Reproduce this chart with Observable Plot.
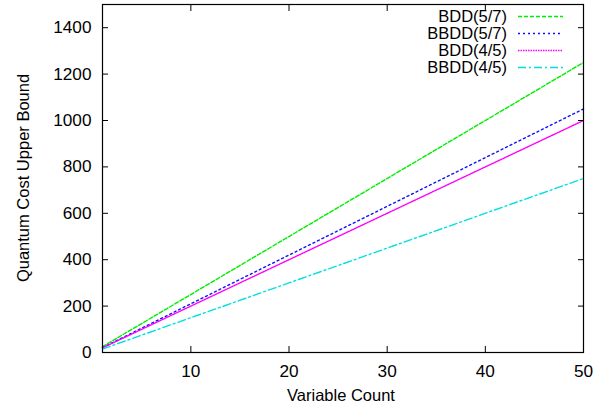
<!DOCTYPE html>
<html>
<head>
<meta charset="utf-8">
<script src="https://cdn.jsdelivr.net/npm/d3@7"></script>
<script src="https://cdn.jsdelivr.net/npm/@observablehq/plot@0.6"></script>
<style>
  html, body { margin: 0; padding: 0; background: #fff; }
  #chart svg { display: block; }
</style>
</head>
<body>
<div id="chart"></div>
<script>
// ---- data ----
const variableCount = [1, 50];
const bdd57  = [25, 1250];
const bbdd57 = [21, 1050];
const bdd45  = [20, 1000];
const bbdd45 = [15, 750];
const seriesNames  = ["BDD(5/7)", "BBDD(5/7)", "BDD(4/5)", "BBDD(4/5)"];
const seriesColors = ["#00ee00", "#1010ff", "#ff00ff", "#00e0e0"];
const seriesDash   = ["4,2", "2,3", "1.5,1", "8,3,2,3"];
const xTicks = [10, 20, 30, 40, 50];
const yTicks = [0, 200, 400, 600, 800, 1000, 1200, 1400];
const xLabel = "Variable Count";
const yLabel = "Quantum Cost Upper Bound";

const seriesValues = [bdd57, bbdd57, bdd45, bbdd45];
const rows = seriesValues.flatMap((vals, s) =>
  variableCount.map((x, i) => ({series: seriesNames[s], x, y: vals[i]})));

const font = "Liberation Sans, Arial, Helvetica, sans-serif";
const fs = 16.5;
const tickFs = 17.2;

const chart = Plot.plot({
  width: 611,
  height: 410,
  marginTop: 4,
  marginRight: 28,
  marginBottom: 58,
  marginLeft: 102,
  style: {fontFamily: font, fontSize: fs + "px", color: "#000", background: "#fff"},
  x: {domain: [1, 50], label: null},
  y: {domain: [0, 1500], label: null},
  marks: [
    ...seriesNames.map((name, s) =>
      Plot.line(rows.filter(d => d.series === name), {
        x: "x", y: "y",
        stroke: seriesColors[s],
        strokeWidth: 1.4,
        strokeDasharray: seriesDash[s]
      })),
    // inward ticks, mirrored on all four sides
    Plot.axisX({anchor: "bottom", ticks: xTicks, tickSize: -6, text: null, stroke: "#000"}),
    Plot.axisX({anchor: "top", ticks: xTicks, tickSize: -6, text: null, stroke: "#000"}),
    Plot.axisY({anchor: "left", ticks: yTicks, tickSize: -6, text: null, stroke: "#000"}),
    Plot.axisY({anchor: "right", ticks: yTicks, tickSize: -6, text: null, stroke: "#000"}),
    // tick labels
    Plot.axisX({anchor: "bottom", ticks: xTicks, tickSize: 0, tickPadding: 12, fontSize: tickFs, label: null, tickFormat: d => String(d)}),
    Plot.axisY({anchor: "left", ticks: yTicks, tickSize: 0, tickPadding: 11, fontSize: tickFs, label: null, tickFormat: d => String(d)}),
    Plot.frame({stroke: "#000", strokeWidth: 1.2})
  ]
});

// axis titles and key, placed in the plot's SVG
const svg = d3.select(chart);
svg.append("text")
  .attr("x", 341).attr("y", 401)
  .attr("text-anchor", "middle")
  .attr("font-family", font).attr("font-size", fs)
  .attr("fill", "#000")
  .text(xLabel);
svg.append("text")
  .attr("transform", "translate(29,178) rotate(-90)")
  .attr("text-anchor", "middle")
  .attr("font-family", font).attr("font-size", fs)
  .attr("fill", "#000")
  .text(yLabel);

const key = svg.append("g");
seriesNames.forEach((name, i) => {
  const cy = 16.5 + i * 17;
  key.append("text")
    .attr("x", 507).attr("y", cy)
    .attr("dy", "0.36em")
    .attr("text-anchor", "end")
    .attr("font-family", font).attr("font-size", fs)
    .attr("fill", "#000")
    .text(name);
  key.append("line")
    .attr("x1", 518).attr("x2", 563)
    .attr("y1", cy).attr("y2", cy)
    .attr("stroke", seriesColors[i])
    .attr("stroke-width", 1.4)
    .attr("stroke-dasharray", seriesDash[i]);
});

document.getElementById("chart").appendChild(chart);
</script>
</body>
</html>
